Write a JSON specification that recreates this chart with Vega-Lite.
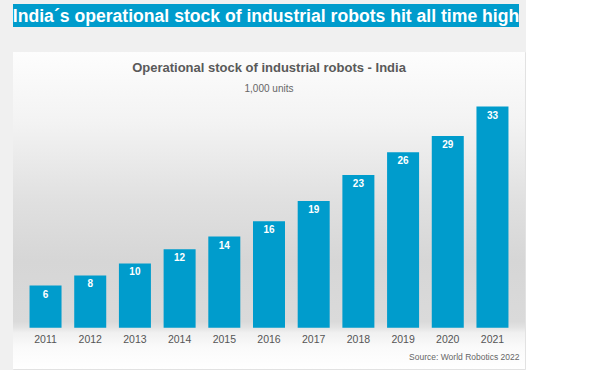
{
  "$schema": "https://vega.github.io/schema/vega-lite/v6.json",
  "background": "#f0f0f0",
  "padding": {"left": 12, "top": 4, "right": 0, "bottom": 0},
  "spacing": 24,
  "config": {"font": "Liberation Sans", "view": {"stroke": null}},
  "vconcat": [
    {
      "width": 506,
      "height": 23,
      "view": {"fill": "#009ccc", "stroke": null},
      "data": {"values": [{"headline": "India´s operational stock of industrial robots hit all time high"}]},
      "mark": {"type": "text", "font": "Liberation Sans", "fontSize": 17.6, "fontWeight": "bold", "color": "#ffffff", "baseline": "middle", "align": "center", "dy": 1},
      "encoding": {"text": {"field": "headline", "type": "nominal"}}
    },
    {
      "width": 512,
      "height": 317,
      "view": {"fill": "#ffffff", "stroke": "#e2e2e2"},
      "title": {
        "text": "Operational stock of industrial robots - India",
        "subtitle": "1,000 units",
        "anchor": "middle",
        "frame": "group",
        "offset": -42,
        "fontSize": 13,
        "fontWeight": "bold",
        "color": "#595959",
        "subtitleFontSize": 10,
        "subtitleColor": "#666666",
        "subtitlePadding": 9
      },
      "data": {
        "values": [
          {"year": "2011", "stock": 6.3},
          {"year": "2012", "stock": 7.8},
          {"year": "2013", "stock": 9.6},
          {"year": "2014", "stock": 11.7},
          {"year": "2015", "stock": 13.6},
          {"year": "2016", "stock": 15.9},
          {"year": "2017", "stock": 18.9},
          {"year": "2018", "stock": 22.8},
          {"year": "2019", "stock": 26.2},
          {"year": "2020", "stock": 28.6},
          {"year": "2021", "stock": 33.0}
        ]
      },
      "layer": [
        {
          "data": {"values": [{}]},
          "mark": {
            "type": "rect",
            "color": {
              "gradient": "linear",
              "x1": 0, "y1": 0, "x2": 0, "y2": 1,
              "stops": [
                {"offset": 0, "color": "#fdfdfd"},
                {"offset": 0.22, "color": "#f3f3f3"},
                {"offset": 0.47, "color": "#e0e0e0"},
                {"offset": 0.66, "color": "#d6d6d6"},
                {"offset": 0.85, "color": "#dadada"},
                {"offset": 0.868, "color": "#e2e2e2"},
                {"offset": 0.885, "color": "#f0f0f0"},
                {"offset": 0.93, "color": "#fafafa"},
                {"offset": 1, "color": "#ffffff"}
              ]
            }
          },
          "encoding": {}
        },
        {
          "mark": {"type": "bar", "color": "#009ccc"},
          "encoding": {
            "x": {
              "field": "year",
              "type": "ordinal",
              "scale": {"paddingInner": 0.284, "paddingOuter": 0.37},
              "axis": {
                "title": "Source: World Robotics 2022",
                "zindex": 1,
                "labelAngle": 0,
                "labelColor": "#555555",
                "labelFontSize": 10.5,
                "labelPadding": 6,
                "ticks": false,
                "domain": false,
                "grid": false,
                "offset": -41,
                "titleFontSize": 8.5,
                "titleFontWeight": "normal",
                "titleColor": "#666666",
                "titleAlign": "right",
                "titleAnchor": "end",
                "titleX": 506,
                "titleY": 31,
                "titleBaseline": "alphabetic"
              }
            },
            "y": {
              "field": "stock",
              "type": "quantitative",
              "scale": {"domain": [-6.16, 41.15], "nice": false, "zero": false},
              "axis": null
            },
            "y2": {"datum": 0}
          }
        },
        {
          "mark": {"type": "text", "color": "#ffffff", "fontWeight": "bold", "fontSize": 10, "baseline": "middle", "dy": 9},
          "encoding": {
            "x": {"field": "year", "type": "ordinal"},
            "y": {"field": "stock", "type": "quantitative"},
            "text": {"field": "stock", "type": "quantitative", "format": ".0f"}
          }
        }
      ]
    }
  ]
}
